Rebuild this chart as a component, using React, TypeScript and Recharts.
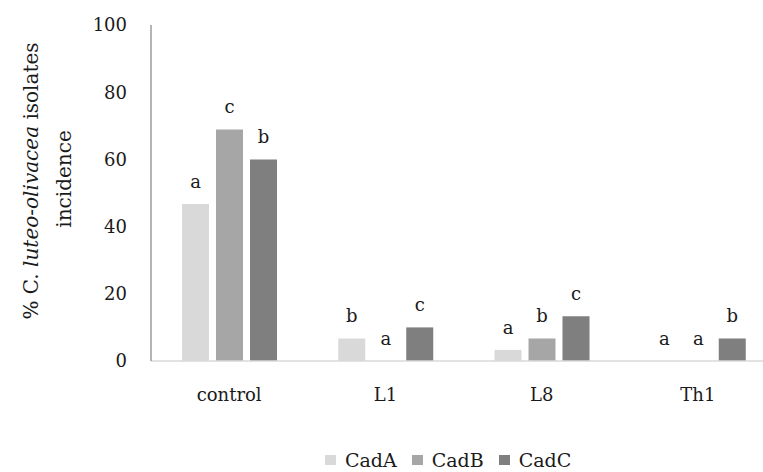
import { Bar, BarChart, LabelList, Legend, XAxis, YAxis } from "recharts"

const groups = ["control", "L1", "L8", "Th1"]
const cadA = [46.7, 6.7, 3.3, 0]
const cadB = [68.9, 0, 6.7, 0]
const cadC = [60, 10, 13.3, 6.7]
const lettersA = ["a", "b", "a", "a"]
const lettersB = ["c", "a", "b", "a"]
const lettersC = ["b", "c", "c", "b"]
const yTicks = [0, 20, 40, 60, 80, 100]

const chartData = groups.map((name, i) => ({
	name,
	CadA: cadA[i],
	CadB: cadB[i],
	CadC: cadC[i],
	letA: lettersA[i],
	letB: lettersB[i],
	letC: lettersC[i],
}))

const FONT = "'DejaVu Serif', serif"

// significance letter above each bar (also drawn for the empty ones)
const letterLabel = (props: any) => {
	const { x, y, width, height, value } = props
	const top = Math.min(Number(y), Number(y) + Number(height))
	return (
		<text
			x={Number(x) + Number(width) / 2}
			y={top - 16}
			textAnchor="middle"
			fontFamily={FONT}
			fontSize={18}
			fill="#1a1a1a"
		>
			{value}
		</text>
	)
}

const yTitle = () => (
	<g fontFamily={FONT} fontSize={20} fill="#1a1a1a">
		<text
			transform="translate(31,181) rotate(-90)"
			textAnchor="middle"
			dominantBaseline="central"
		>
			% C. <tspan fontStyle="italic">luteo-olivacea</tspan> isolates
		</text>
		<text
			transform="translate(64,179) rotate(-90)"
			textAnchor="middle"
			dominantBaseline="central"
		>
			incidence
		</text>
	</g>
)

const legendContent = (props: any) => (
	<div
		style={{
			display: "flex",
			fontFamily: FONT,
			fontSize: 19,
			lineHeight: "16px",
			color: "#1a1a1a",
		}}
	>
		{props.payload.map((p: any) => (
			<div key={p.value} style={{ display: "flex", alignItems: "center", marginRight: 15 }}>
				<span
					style={{
						width: 11,
						height: 10,
						background: p.color,
						marginRight: 9,
						display: "inline-block",
					}}
				/>
				<span>{p.value}</span>
			</div>
		))}
	</div>
)

export default function App() {
	return (
		<div
			style={{
				position: "absolute",
				left: 0,
				top: 0,
				width: 763,
				height: 472,
				overflow: "hidden",
				background: "#fff",
			}}
		>
			<BarChart
				width={790}
				height={472}
				data={chartData}
				margin={{ top: 25, right: 14, bottom: 81, left: 0 }}
				barSize={27}
				barGap={7}
			>
				<XAxis
					dataKey="name"
					tickLine={false}
					tickSize={0}
					tickMargin={27}
					height={30}
					stroke="#d9d9d9"
					strokeWidth={1.5}
					tick={{ fill: "#1a1a1a", fontFamily: FONT, fontSize: 18 }}
				/>
				<YAxis
					width={151}
					domain={[0, 100]}
					ticks={yTicks}
					tickLine={false}
					tickSize={0}
					tickMargin={24}
					stroke="#8c8c8c"
					strokeWidth={1.3}
					tick={{ fill: "#1a1a1a", fontFamily: FONT, fontSize: 18 }}
					label={{ content: yTitle }}
				/>
				<Legend
					verticalAlign="middle"
					align="center"
					content={legendContent}
					wrapperStyle={{ top: 452, left: 325, width: 300 }}
				/>
				<Bar dataKey="CadA" fill="#d9d9d9" minPointSize={0.01} isAnimationActive={false}>
					<LabelList dataKey="letA" content={letterLabel} />
				</Bar>
				<Bar dataKey="CadB" fill="#a6a6a6" minPointSize={0.01} isAnimationActive={false}>
					<LabelList dataKey="letB" content={letterLabel} />
				</Bar>
				<Bar dataKey="CadC" fill="#7f7f7f" minPointSize={0.01} isAnimationActive={false}>
					<LabelList dataKey="letC" content={letterLabel} />
				</Bar>
			</BarChart>
		</div>
	)
}
